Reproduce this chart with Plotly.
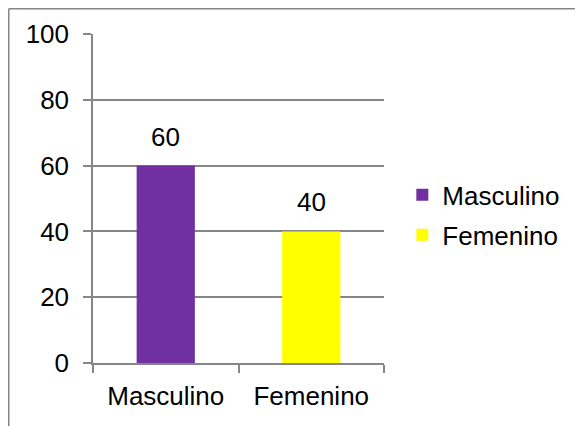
import plotly.graph_objects as go

categories = ["Masculino", "Femenino"]
values = [60, 40]
colors = ["#7030A0", "#FFFF00"]
y_ticks = [0, 20, 40, 60, 80, 100]

FONT = "Liberation Sans, Arial, sans-serif"
GRAY = "#868686"
FS = 26

# page body has an 8px margin; plot area in window: x 93..384, y 34..363
W, H = 575, 418
L, T = 85, 26
PW, PH = 291, 329

fig = go.Figure()
for cat, val, col in zip(categories, values, colors):
    fig.add_trace(go.Bar(
        x=[cat], y=[val], name=cat, marker=dict(color=col, line=dict(width=0)),
        legendgroup=cat, showlegend=True,
    ))
    fig.add_annotation(x=cat, y=val, text=str(val), showarrow=False,
                       yanchor="bottom", yshift=12,
                       font=dict(family=FONT, size=FS, color="black"))

fig.update_layout(
    width=W, height=H,
    margin=dict(l=L, r=W - L - PW, t=T, b=H - T - PH),
    paper_bgcolor="white", plot_bgcolor="white",
    font=dict(family=FONT, size=FS, color="black"),
    bargap=0.6, barmode="group",
    showlegend=True,
    legend=dict(x=1.063, y=0.45, xanchor="left", yanchor="middle",
                font=dict(family=FONT, size=FS, color="black"),
                tracegroupgap=3, bgcolor="rgba(0,0,0,0)", borderwidth=0),
    xaxis=dict(type="category", categoryorder="array", categoryarray=categories,
               showline=True, linecolor=GRAY, linewidth=1.5,
               ticks="outside", tickson="boundaries", ticklen=8, tickcolor=GRAY, tickwidth=1.5,
               showgrid=False, tickfont=dict(family=FONT, size=FS, color="black"),
               ticklabelstandoff=9),
    yaxis=dict(range=[0, 100], tickvals=y_ticks, showline=True, linecolor=GRAY, linewidth=1.5,
               ticks="outside", ticklen=8, tickcolor=GRAY, tickwidth=1.5,
               showgrid=True, gridcolor=GRAY, gridwidth=1.5, zeroline=False,
               tickfont=dict(family=FONT, size=FS, color="black"),
               ticklabelstandoff=9),
    shapes=[
        dict(type="line", xref="paper", yref="paper", x0=-(L - 0.75) / PW, x1=(W - L + 10) / PW,
             y0=(PH + T - 0.75) / PH, y1=(PH + T - 0.75) / PH, line=dict(color=GRAY, width=1.5)),
        dict(type="line", xref="paper", yref="paper", x0=-(L - 0.75) / PW, x1=-(L - 0.75) / PW,
             y0=(PH + T - 0.75) / PH, y1=-(H - T - PH + 10) / PH, line=dict(color=GRAY, width=1.5)),
    ],
)

fig.write_html("out.html")
